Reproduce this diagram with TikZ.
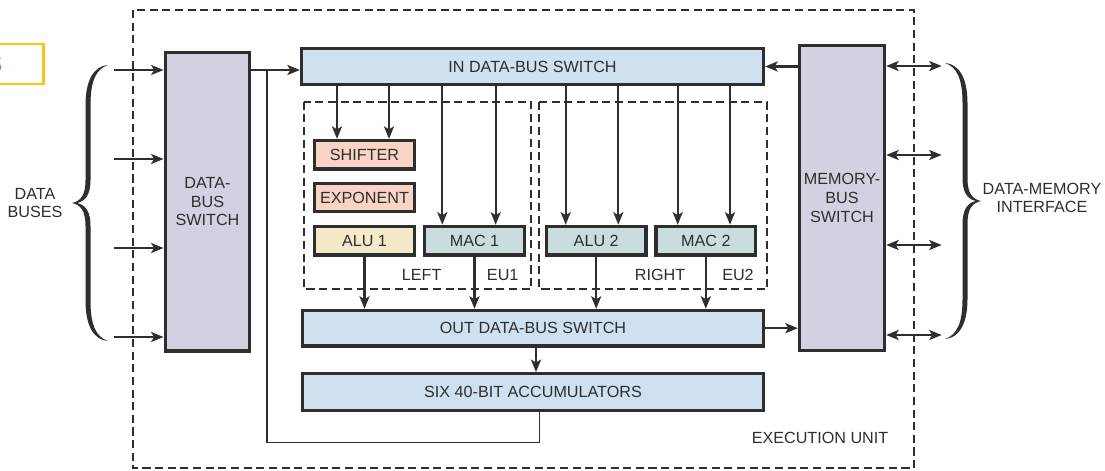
\documentclass[tikz,border=0pt]{standalone}
\usepackage{fontspec}
\setmainfont{Liberation Sans}
\usetikzlibrary{arrows.meta}
\definecolor{ink}{HTML}{2E2E2E}
\definecolor{busblue}{HTML}{CFE0EF}
\definecolor{lavender}{HTML}{D3D1E1}
\definecolor{salmon}{HTML}{F9D4C5}
\definecolor{cream}{HTML}{F3EACA}
\definecolor{tealgray}{HTML}{C9DDDE}
\definecolor{gold}{HTML}{FFC20E}
\definecolor{rose}{HTML}{EF5A6A}
\newcommand\labfont{\fontsize{9.2}{10.6}\selectfont}
\tikzset{
  block/.style={draw=ink, line width=1.9pt, inner sep=0pt, text=ink, font=\labfont, align=center},
  busbox/.style={block, fill=busblue, minimum height=0.71cm},
  switchbox/.style={block, fill=lavender, minimum width=1.69cm},
  unitbox/.style={block, minimum width=1.99cm, minimum height=0.57cm},
  tag/.style={text=ink, font=\labfont, inner sep=0pt, align=center},
  eu/.style={draw=ink, line width=1.1pt, dash pattern=on 4.6pt off 2.6pt},
  bus/.style={draw=ink, line width=1.3pt},
  loopline/.style={draw=ink, line width=0.9pt},
  curly/.pic={
    \fill[ink] (0,0) .. controls (-14,1) and (-22.5,15) .. (-22.5,40) -- (-22.5,115)
      .. controls (-22.5,130) and (-27,136) .. (-36,138)
      .. controls (-27,140) and (-22.5,146) .. (-22.5,161) -- (-22.5,236)
      .. controls (-22.5,261) and (-14,275) .. (0,276)
      .. controls (-12,272) and (-17.5,260) .. (-17.5,236) -- (-17.5,161)
      .. controls (-17.5,147) and (-22,140) .. (-31,138)
      .. controls (-22,136) and (-17.5,129) .. (-17.5,115) -- (-17.5,40)
      .. controls (-17.5,16) and (-12,4) .. (0,0) -- cycle;
  }
}

\begin{document}
\begin{tikzpicture}[x=0.02cm, y=-0.02cm, >={Stealth[length=2.5mm,width=2mm,inset=0.6mm]}]
  \useasboundingbox (0,0) rectangle (1105,470);
  \draw[gold, line width=1.4pt] (-20,44) rectangle (43.5,84);
  \node[text=rose, font=\fontsize{14}{14}\selectfont, anchor=east, inner sep=0pt] (cut) at (3,64) {S};

  \draw[eu] (132.7,10) rectangle (914,468.3);
  \draw[eu] (304.3,101.7) rectangle (531,289.3);
  \draw[eu] (539.3,101.7) rectangle (766.7,289.3);

  \node[switchbox, minimum height=5.97cm] (dbsw) at (207.5,201.8) {DATA-\\BUS\\SWITCH};
  \node[switchbox, minimum height=6.09cm, minimum width=1.7cm] (mbsw) at (842,198) {MEMORY-\\BUS\\SWITCH};
  \node[busbox, minimum width=9.24cm] (insw) at (532.5,66.5) {IN DATA-BUS SWITCH};
  \node[busbox, minimum width=9.22cm] (outsw) at (533,328.2) {OUT DATA-BUS SWITCH};
  \node[busbox, minimum width=9.22cm, minimum height=0.73cm] (acc) at (533,392) {SIX 40-BIT ACCUMULATORS};

  \node[unitbox, fill=salmon] (shifter) at (364.5,154.8) {SHIFTER};
  \node[unitbox, fill=salmon] (expo) at (364.5,197.5) {EXPONENT};
  \node[unitbox, fill=cream] (alua) at (364.5,240.6) {ALU 1};
  \node[unitbox, fill=tealgray] (maca) at (474.5,240.6) {MAC 1};
  \node[unitbox, fill=tealgray] (alub) at (596.2,240.6) {ALU 2};
  \node[unitbox, fill=tealgray] (macb) at (705.8,240.6) {MAC 2};

  \node[tag] (left) at (421.7,275) {LEFT};
  \node[tag] (eua) at (502.7,275) {EU1};
  \node[tag] (right) at (660,275) {RIGHT};
  \node[tag] (eub) at (738,275) {EU2};
  \node[tag] (exu) at (820,438) {EXECUTION UNIT};
  \node[tag] (dbuses) at (35,203) {DATA\\BUSES};
  \node[tag] (dmi) at (1042,198) {DATA-MEMORY\\INTERFACE};

  \pic at (108,65) {curly};
  \pic[xscale=-1] at (945,63) {curly};

  \foreach \y [count=\i] in {70,159,248,337} {
    \coordinate (in\i) at (114,\y);
    \draw[bus, ->] (in\i) -- (in\i -| dbsw.west);
  }
  \foreach \y [count=\i] in {66,155,245,335} {
    \coordinate (mem\i) at (941.7,\y);
    \draw[bus, <->] (mem\i -| mbsw.east) -- (mem\i);
  }

  \coordinate (split) at (267,70);
  \coordinate (fb) at (539.3,442.7);
  \draw[bus, ->] (dbsw.east |- split) -- (split -| insw.west);
  \draw[loopline] (acc.south -| fb) -- (fb) -| (split);
  \draw[bus, ->] (mbsw.west |- insw.east) -- (insw.east);
  \draw[bus, ->] (outsw.east) -- (outsw.east -| mbsw.west);
  \draw[bus, ->] (outsw.south -| 536,0) -- (acc.north -| 536,0);

  \foreach \x in {337,389}
    \draw[bus, ->] (insw.south -| \x,0) -- (shifter.north -| \x,0);
  \foreach \x in {442.3,495.7}
    \draw[bus, ->] (insw.south -| \x,0) -- (maca.north -| \x,0);
  \foreach \x in {565.7,618.3}
    \draw[bus, ->] (insw.south -| \x,0) -- (alub.north -| \x,0);
  \foreach \x in {677.7,730}
    \draw[bus, ->] (insw.south -| \x,0) -- (macb.north -| \x,0);

  \foreach \u in {alua,maca,alub,macb}
    \draw[bus, ->] (\u.south) -- (\u.south |- outsw.north);
\end{tikzpicture}
\end{document}
